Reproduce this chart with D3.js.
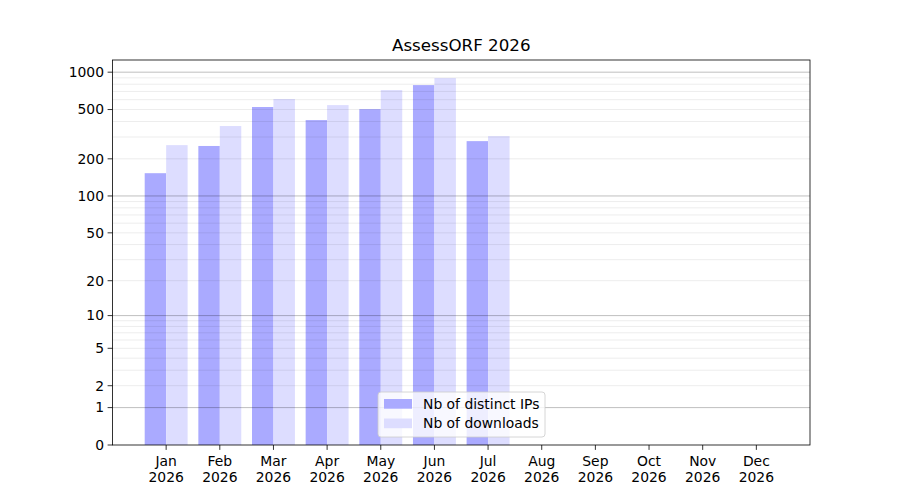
<!DOCTYPE html>
<html>
<head>
<meta charset="utf-8">
<script src="https://cdn.jsdelivr.net/npm/d3@7"></script>
<style>
  body { margin: 0; background: #fff; }
  text { font-family: "DejaVu Sans", sans-serif; fill: #000; }
</style>
</head>
<body>
<div id="chart"></div>
<script>
// Monthly stats
const months = ["Jan", "Feb", "Mar", "Apr", "May", "Jun", "Jul", "Aug", "Sep", "Oct", "Nov", "Dec"];
const year = "2026";
const distinctIPs = [153, 254, 524, 411, 504, 787, 278, 0, 0, 0, 0, 0];
const downloads = [258, 368, 608, 543, 717, 896, 305, 0, 0, 0, 0, 0];
const yTicks = [0, 1, 2, 5, 10, 20, 50, 100, 200, 500, 1000];
const majorGrid = [1, 10, 100, 1000];
const minorGrid = [2, 3, 4, 5, 6, 7, 8, 9, 20, 30, 40, 50, 60, 70, 80, 90, 200, 300, 400, 500, 600, 700, 800, 900];

const W = 900, H = 500;
const margin = { top: 60, right: 90, bottom: 55, left: 112.5 };
const width = W - margin.left - margin.right;
const height = H - margin.top - margin.bottom;

const svg = d3.select("#chart").append("svg")
  .attr("width", W)
  .attr("height", H);

svg.append("text")
  .attr("x", margin.left + width / 2)
  .attr("y", margin.top - 9)
  .attr("text-anchor", "middle")
  .style("font-size", "16.7px")
  .text("AssessORF " + year);

const g = svg.append("g")
  .attr("transform", `translate(${margin.left},${margin.top})`);

// x: month index, limits -1 .. 12 like the original
const x = d3.scaleLinear().domain([-1, 12]).range([0, width]);
// y: log10(1 + v)
const yMax = Math.log10(1 + 1000) * 1.0;
const ty = d3.scaleLinear().domain([0, 3.0985]).range([height, 0]);
const y = v => ty(Math.log10(1 + v));

const barW = x(0.4) - x(0);

// bars
g.selectAll(".ip")
  .data(distinctIPs)
  .enter().append("rect")
  .attr("class", "ip")
  .attr("x", (d, i) => x(i - 0.4))
  .attr("y", d => y(d))
  .attr("width", barW)
  .attr("height", d => height - y(d))
  .attr("fill", "#aaaaff");

g.selectAll(".dl")
  .data(downloads)
  .enter().append("rect")
  .attr("class", "dl")
  .attr("x", (d, i) => x(i))
  .attr("y", d => y(d))
  .attr("width", barW)
  .attr("height", d => height - y(d))
  .attr("fill", "#ddddff");

// grid on top of bars
g.selectAll(".minor")
  .data(minorGrid)
  .enter().append("line")
  .attr("x1", 0).attr("x2", width)
  .attr("y1", d => y(d)).attr("y2", d => y(d))
  .attr("stroke", "#000").attr("stroke-opacity", 0.075)
  .attr("stroke-width", 1);

g.selectAll(".major")
  .data(majorGrid)
  .enter().append("line")
  .attr("x1", 0).attr("x2", width)
  .attr("y1", d => y(d)).attr("y2", d => y(d))
  .attr("stroke", "#000").attr("stroke-opacity", 0.25)
  .attr("stroke-width", 1);

// y axis
const yAxis = g.append("g");
yTicks.forEach(t => {
  yAxis.append("line")
    .attr("x1", -4.9).attr("x2", 0)
    .attr("y1", y(t)).attr("y2", y(t))
    .attr("stroke", "#000").attr("stroke-width", 0.8);
  yAxis.append("text")
    .attr("x", -8.5)
    .attr("y", y(t))
    .attr("dy", "0.35em")
    .attr("text-anchor", "end")
    .style("font-size", "13.9px")
    .text(t);
});

// x axis
const xAxis = g.append("g").attr("transform", `translate(0,${height})`);
months.forEach((m, i) => {
  xAxis.append("line")
    .attr("x1", x(i)).attr("x2", x(i))
    .attr("y1", 0).attr("y2", 4.9)
    .attr("stroke", "#000").attr("stroke-width", 0.8);
  const t = xAxis.append("text")
    .attr("x", x(i))
    .attr("y", 21)
    .attr("text-anchor", "middle")
    .style("font-size", "13.9px");
  t.append("tspan").attr("x", x(i)).text(m);
  t.append("tspan").attr("x", x(i)).attr("dy", 16).text(year);
});

// frame
g.append("rect")
  .attr("width", width).attr("height", height)
  .attr("fill", "none").attr("stroke", "#000").attr("stroke-width", 0.8);

// legend, lower center
const legend = [
  { label: "Nb of distinct IPs", color: "#aaaaff" },
  { label: "Nb of downloads", color: "#ddddff" }
];
const lx = 378 - margin.left, ly = 392 - margin.top;
const lg = g.append("g").attr("transform", `translate(${lx},${ly})`);
lg.append("rect")
  .attr("width", 167).attr("height", 45)
  .attr("rx", 3)
  .attr("fill", "#fff").attr("fill-opacity", 0.8)
  .attr("stroke", "#ccc").attr("stroke-width", 0.8);
legend.forEach((d, i) => {
  lg.append("rect")
    .attr("x", 6).attr("y", 7 + i * 19.5)
    .attr("width", 28).attr("height", 9.7)
    .attr("fill", d.color);
  lg.append("text")
    .attr("x", 45).attr("y", 12 + i * 19.5)
    .attr("dy", "0.35em")
    .style("font-size", "13.9px")
    .text(d.label);
});
</script>
</body>
</html>
